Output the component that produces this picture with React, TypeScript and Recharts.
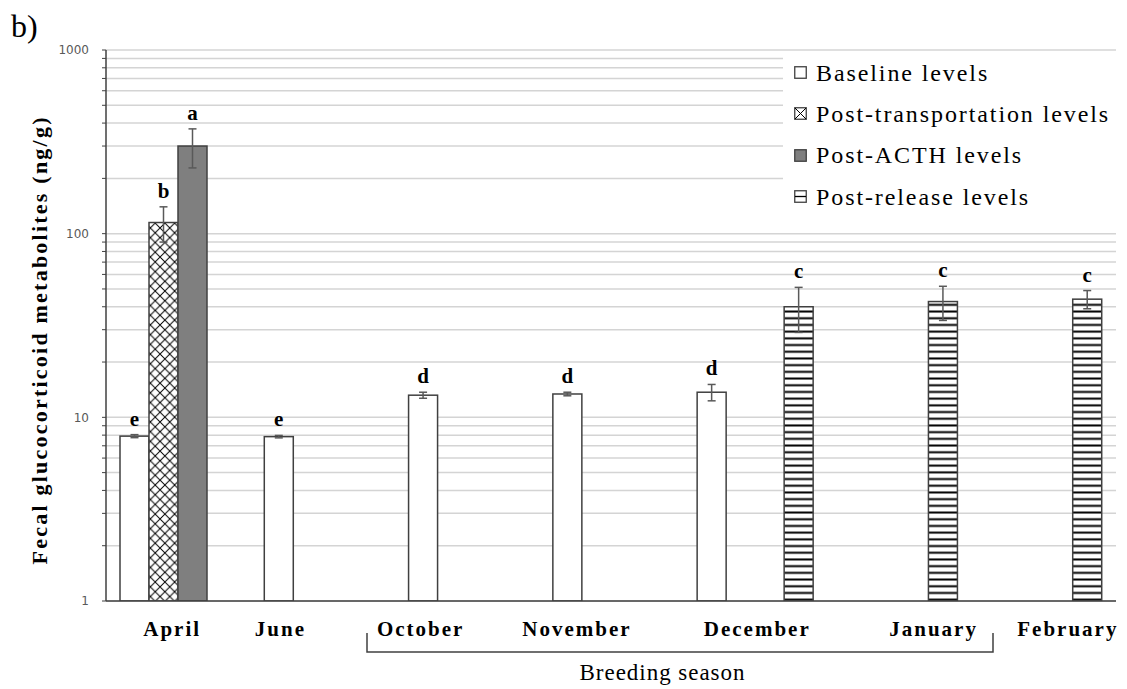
import React from "react";
import {
  BarChart,
  Bar,
  XAxis,
  YAxis,
  CartesianGrid,
  ErrorBar,
  LabelList,
  Legend,
} from "recharts";

// ---------------------------------------------------------------------------
// Data (log scale)
// ---------------------------------------------------------------------------

const MONTHS = ["April", "June", "October", "November", "December", "January", "February"];

const BASELINE = [7.9, 7.85, 13.2, 13.4, 13.7, null, null];
const BASELINE_ERR = [0.15, 0.12, 0.5, 0.3, 1.4, null, null];
const BASELINE_SIG = ["e", "e", "d", "d", "d", null, null];

const POST_TRANSPORT = [115, null, null, null, null, null, null];
const POST_TRANSPORT_ERR = [25, null, null, null, null, null, null];
const POST_TRANSPORT_SIG = ["b", null, null, null, null, null, null];

const POST_ACTH = [300, null, null, null, null, null, null];
const POST_ACTH_ERR = [72, null, null, null, null, null, null];
const POST_ACTH_SIG = ["a", null, null, null, null, null, null];

const POST_RELEASE = [null, null, null, null, 40, 42.7, 44];
const POST_RELEASE_ERR = [null, null, null, null, 11, 9, 5];
const POST_RELEASE_SIG = [null, null, null, null, "c", "c", "c"];

const Y_TICKS = [
  1, 2, 3, 4, 5, 6, 7, 8, 9,
  10, 20, 30, 40, 50, 60, 70, 80, 90,
  100, 200, 300, 400, 500, 600, 700, 800, 900,
  1000,
];
const Y_MAJOR = [1, 10, 100, 1000];

const SERIES = [
  { key: "baseline", name: "Baseline levels", values: BASELINE, err: BASELINE_ERR, sig: BASELINE_SIG, fill: "#ffffff" },
  { key: "transport", name: "Post-transportation levels", values: POST_TRANSPORT, err: POST_TRANSPORT_ERR, sig: POST_TRANSPORT_SIG, fill: "url(#crossHatch)" },
  { key: "acth", name: "Post-ACTH levels", values: POST_ACTH, err: POST_ACTH_ERR, sig: POST_ACTH_SIG, fill: "#7f7f7f" },
  { key: "release", name: "Post-release levels", values: POST_RELEASE, err: POST_RELEASE_ERR, sig: POST_RELEASE_SIG, fill: "url(#hStripes)" },
];

const chartData = MONTHS.map((month, i) => {
  const row: Record<string, unknown> = { month };
  SERIES.forEach((s) => {
    row[s.key] = s.values[i];
    row[s.key + "Err"] = s.err[i];
    row[s.key + "Sig"] = s.sig[i];
  });
  return row;
});

// ---------------------------------------------------------------------------
// Styling helpers
// ---------------------------------------------------------------------------

const SERIF = "'Liberation Serif', 'Times New Roman', serif";
const EDGE = "#404040";

// hand-placed month labels in the original figure
const TICK_DX = [-6, -42, -46, -34, 2, 34, 24];

function BarShape(props: any) {
  const { x, y, width, height, fill } = props;
  if (![x, y, width, height].every(Number.isFinite) || height <= 0) return null;
  return (
    <rect x={x} y={y} width={width} height={height} fill={fill} stroke={EDGE} strokeWidth={1.5} />
  );
}

function sigLabel(key: string) {
  return (props: any) => {
    const { x, y, width, height, value } = props;
    const row = (value && typeof value === "object" ? value : props.payload) as Record<string, unknown> | undefined;
    if (!row) return null;
    const v = row[key] as number | null;
    const e = (row[key + "Err"] as number | null) ?? 0;
    const s = row[key + "Sig"] as string | null;
    if (v == null || !s || !Number.isFinite(height) || !Number.isFinite(y)) return null;
    // bar base sits at 1 on the log axis, so height maps log10(v)
    const k = height / Math.log10(v);
    const topY = y - k * (Math.log10(v + e) - Math.log10(v));
    return (
      <text
        x={x + width / 2}
        y={topY - 9}
        textAnchor="middle"
        fontFamily={SERIF}
        fontWeight="bold"
        fontSize={21}
        fill="#000"
      >
        {s}
      </text>
    );
  };
}

function MonthTick(props: any) {
  const { x, y, payload, index } = props;
  return (
    <text
      x={x + (TICK_DX[index] ?? 0)}
      y={y + 35}
      textAnchor="middle"
      fontFamily={SERIF}
      fontWeight="bold"
      fontSize={21}
      letterSpacing={2}
      fill="#000"
    >
      {payload.value}
    </text>
  );
}

function LegendMarker({ kind }: { kind: string }) {
  return (
    <svg width={13} height={13} style={{ display: "block" }}>
      <rect x={0.75} y={0.75} width={11.5} height={11.5} fill={kind === "acth" ? "#7f7f7f" : "#fff"} stroke={EDGE} strokeWidth={1.3} />
      {kind === "transport" && (
        <path d="M1,1 L12,12 M12,1 L1,12" stroke="#000" strokeWidth={1} />
      )}
      {kind === "release" && <line x1={1} y1={6.5} x2={12} y2={6.5} stroke="#000" strokeWidth={1.3} />}
    </svg>
  );
}

function LegendBox() {
  return (
    <div style={{ background: "#fff", paddingLeft: 11 }}>
      {SERIES.map((s) => (
        <div key={s.key} style={{ display: "flex", alignItems: "center", height: 41.3 }}>
          <LegendMarker kind={s.key} />
          <span
            style={{
              marginLeft: 9,
              fontFamily: SERIF,
              fontSize: 24,
              letterSpacing: 1.9,
              color: "#000",
              lineHeight: "26px",
              whiteSpace: "nowrap",
            }}
          >
            {s.name}
          </span>
        </div>
      ))}
    </div>
  );
}

// ---------------------------------------------------------------------------
// Main component
// ---------------------------------------------------------------------------

export default function App() {
  return (
    <div style={{ position: "absolute", left: 0, top: 0, width: 1127, height: 689, background: "#fff" }}>
      <BarChart
        width={1127}
        height={689}
        data={chartData}
        margin={{ top: 50, right: 11, bottom: 58, left: 46 }}
        barCategoryGap={14}
        barGap={0}
      >
        <defs>
          <pattern id="crossHatch" width={9.7} height={9.7} patternUnits="userSpaceOnUse">
            <rect width={9.7} height={9.7} fill="#fff" />
            <path d="M0,0 L9.7,9.7 M9.7,0 L0,9.7" stroke="#000" strokeWidth={1} />
          </pattern>
          <pattern id="hStripes" width={10} height={6.7} patternUnits="userSpaceOnUse">
            <rect width={10} height={6.7} fill="#fff" />
            <line x1={0} y1={3.35} x2={10} y2={3.35} stroke="#000" strokeWidth={2} />
          </pattern>
        </defs>
        <CartesianGrid vertical={false} stroke="#d4d4d4" strokeWidth={1.5} />
        <XAxis
          dataKey="month"
          interval={0}
          height={30}
          tickSize={0}
          tickMargin={0}
          tickLine={false}
          axisLine={{ stroke: EDGE, strokeWidth: 1.5 }}
          tick={<MonthTick />}
        />
        <YAxis
          type="number"
          scale="log"
          domain={[1, 1000]}
          allowDataOverflow
          ticks={Y_TICKS}
          interval={0}
          width={60}
          tickSize={4}
          tickMargin={13}
          tickFormatter={(v: number) => (Y_MAJOR.includes(v) ? String(v) : "")}
          tick={{ fontSize: 12, fill: "#595959", fontFamily: "'DejaVu Sans', sans-serif" }}
          tickLine={{ stroke: EDGE }}
          axisLine={{ stroke: EDGE, strokeWidth: 1.5 }}
        />
        <Legend
          layout="vertical"
          align="center"
          verticalAlign="middle"
          content={() => <LegendBox />}
          wrapperStyle={{ top: 52, left: 783, width: 333, height: 166 }}
        />
        {SERIES.map((s) => (
          <Bar
            key={s.key}
            dataKey={s.key}
            name={s.name}
            fill={s.fill}
            shape={<BarShape />}
            isAnimationActive={false}
          >
            <ErrorBar dataKey={s.key + "Err"} width={4} stroke="#595959" strokeWidth={1.5} direction="y" />
            <LabelList dataKey={(d: any) => d} content={sigLabel(s.key)} />
          </Bar>
        ))}
      </BarChart>

      <svg
        width={1127}
        height={689}
        style={{ position: "absolute", left: 0, top: 0, pointerEvents: "none" }}
      >
        <text x={11} y={37} fontFamily={SERIF} fontSize={32} fill="#000">
          b)
        </text>
        <text
          transform="translate(47, 341) rotate(-90)"
          textAnchor="middle"
          fontFamily={SERIF}
          fontWeight="bold"
          fontSize={22}
          textLength={447}
          lengthAdjust="spacing"
          fill="#000"
        >
          Fecal glucocorticoid metabolites (ng/g)
        </text>
        <path d="M367,633 L367,652 L993,652 L993,633" fill="none" stroke={EDGE} strokeWidth={1.5} />
        <text
          x={662}
          y={680}
          textAnchor="middle"
          fontFamily={SERIF}
          fontSize={23}
          textLength={165}
          lengthAdjust="spacing"
          fill="#000"
        >
          Breeding season
        </text>
      </svg>
    </div>
  );
}
